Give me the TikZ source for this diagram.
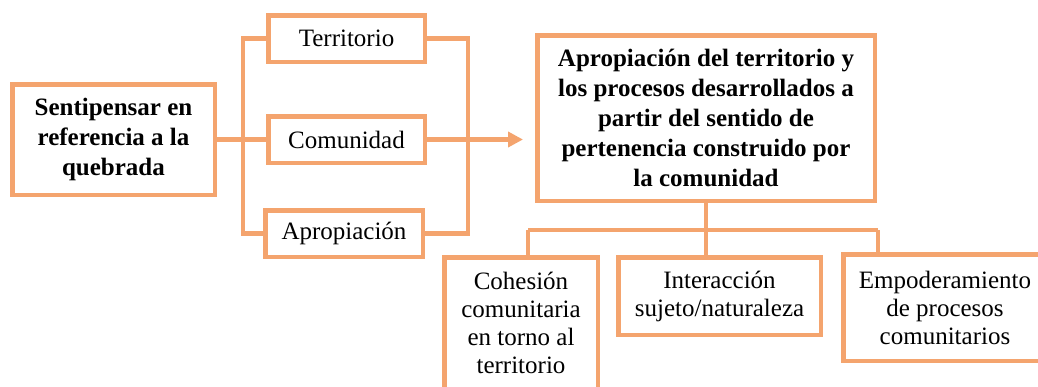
\documentclass[tikz,border=0pt]{standalone}
\usepackage{fontspec}
\setmainfont{Liberation Serif}
\usetikzlibrary{arrows.meta}
\definecolor{naranja}{HTML}{F4A46E}
\tikzset{
  caja/.style={draw=naranja, line width=4.5pt, fill=white, align=center, inner sep=0pt,
    font=\fontsize{25}{28}\selectfont},
  cajanegra/.style={caja, font=\fontsize{25}{30}\selectfont\bfseries},
  linea/.style={draw=naranja, line width=4.5pt},
  flecha/.style={linea, -{Triangle[length=15pt,width=15pt]}}
}
\begin{document}
\begin{tikzpicture}[x=1pt,y=-1pt]
      \useasboundingbox (0,0) rectangle (1038,386);
      \clip (0,0) rectangle (1038,386);
      \node[cajanegra, minimum width=202.5pt, minimum height=110.5pt] (sentir) at (113.5,139.5)
        {Sentipensar en\\referencia a la\\quebrada};
      \node[caja, minimum width=156.5pt, minimum height=46.5pt] (terr) at (346.5,38.5) {Territorio};
      \node[caja, minimum width=156.5pt, minimum height=46.5pt] (comu) at (346.5,139.5) {Comunidad};
      \node[caja, minimum width=157.5pt, minimum height=46.5pt] (apro) at (344,233.5) {Apropiación};
      \node[cajanegra, minimum width=337.5pt, minimum height=165.5pt] (apropia) at (706,118)
        {Apropiación del territorio y\\los procesos desarrollados a\\partir del sentido de\\pertenencia construido por\\la comunidad};
      \node[caja, minimum width=153.5pt, minimum height=131.5pt] (cohes) at (521,323)
        {Cohesión\\comunitaria\\en torno al\\territorio};
      \node[caja, minimum width=202.5pt, minimum height=77.5pt] (inter) at (719.5,296)
        {Interacción\\sujeto/naturaleza};
      \node[caja, minimum width=203.5pt, minimum height=106.5pt] (empod) at (945,307.5)
        {Empoderamiento\\de procesos\\comunitarios};
      \coordinate (izq) at (243,139.5);
      \coordinate (der) at (468,139.5);
      \coordinate (punta) at (523,139.5);
      \coordinate (abajo) at (706,230);
      \coordinate (b1) at (528,230);
      \coordinate (b3) at (878,230);
      \begin{scope}[linea]
        \draw (sentir) to (comu);
        \draw (terr.west) -| (izq) |- (apro.west);
        \draw (terr.east) -| (der) |- (apro.east);
        \draw (apropia.south) to (abajo);
        \draw (b1) to (b3);
        \draw (b1) to (b1 |- cohes.north);
        \draw (abajo) to (abajo |- inter.north);
        \draw (b3) to (b3 |- empod.north);
      \end{scope}
      \draw[flecha] (comu.east) to (punta);
    \end{tikzpicture}
\end{document}
